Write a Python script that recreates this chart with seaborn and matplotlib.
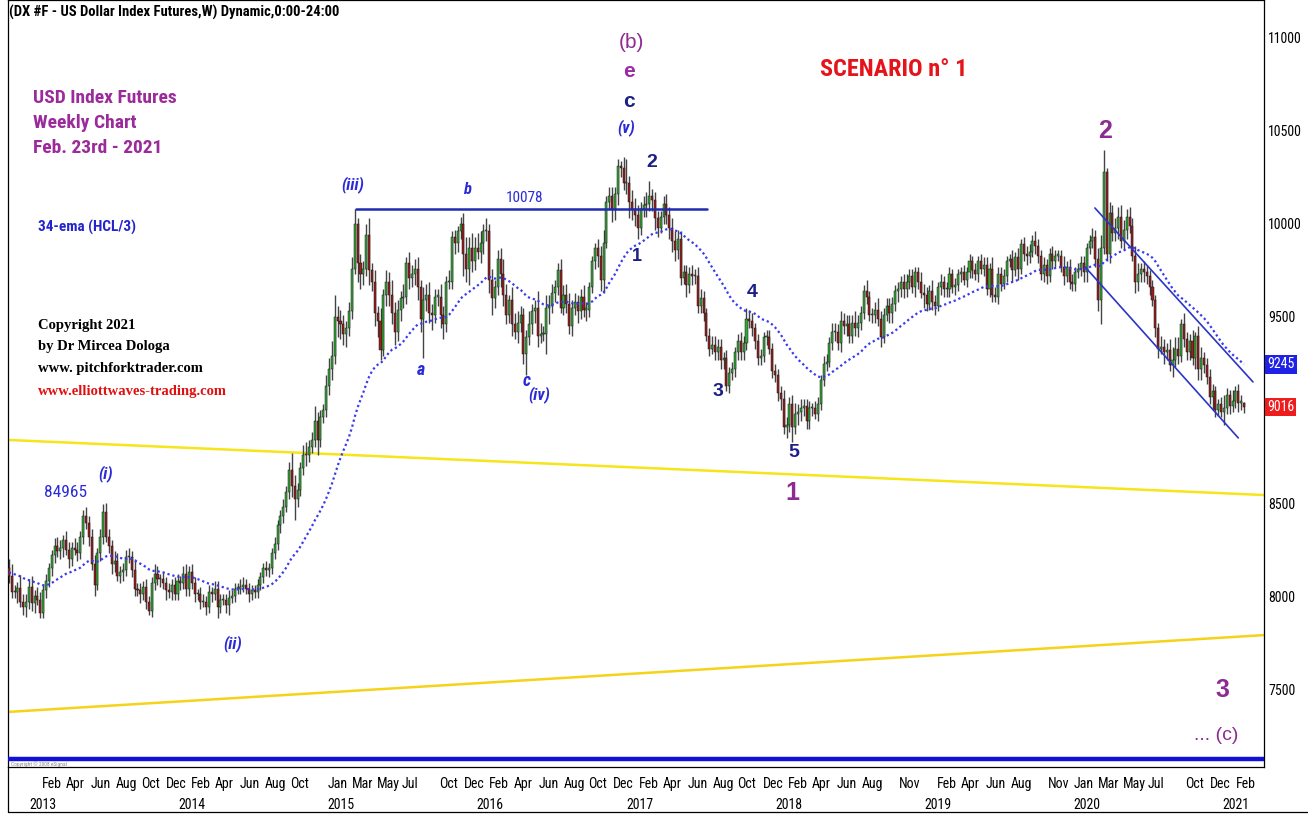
import numpy as np
import pandas as pd
import matplotlib
matplotlib.use("Agg")
import matplotlib.pyplot as plt
import matplotlib.dates as mdates
import matplotlib.transforms as mtrans
from matplotlib import font_manager
from matplotlib.lines import Line2D
import seaborn as sns

# --- weekly DX futures bars (index x100), one entry per week starting Mon 2012-11-12 ---
first_week = "2012-11-12"
first_open = 8150

close_px = [
    # 2012
    8110, 8020, 8020, 8045, 7970, 7940, 7970,
    # 2013
    8050, 7960, 8000, 7980, 7910, 8030, 8080, 8150, 8220, 8270, 8240, 8260, 8300,
    8250, 8200, 8260, 8250, 8230, 8320, 8430, 8390, 8320, 8170, 8060, 8230, 8320,
    8450, 8320, 8270, 8170, 8190, 8110, 8130, 8140, 8210, 8210, 8140, 8040, 8030,
    8010, 8050, 7970, 7920, 8070, 8120, 8090, 8090, 8070, 8030, 8020, 8060, 8010,
    # 2014
    8080, 8070, 8120, 8040, 8130, 8070, 8010, 8010, 7970, 7970, 7940, 8020, 8010,
    8040, 7940, 7980, 7980, 7950, 7990, 8000, 8040, 8040, 8050, 8060, 8040, 8010,
    8030, 8020, 8060, 8100, 8150, 8140, 8150, 8230, 8280, 8380, 8430, 8480, 8560,
    8680, 8590, 8520, 8570, 8690, 8760, 8760, 8800, 8840, 8940, 8840, 8960, 9000,
    # 2015
    9130, 9220, 9290, 9500, 9480, 9460, 9410, 9440, 9530, 9760, 10000, 9790, 9730,
    9760, 9940, 9750, 9690, 9520, 9480, 9320, 9620, 9690, 9620, 9520, 9420, 9540,
    9600, 9610, 9790, 9710, 9730, 9760, 9660, 9490, 9590, 9620, 9520, 9510, 9610,
    9610, 9510, 9460, 9690, 9690, 9930, 9900, 9960, 10000, 9840, 9760, 9870, 9800,
    # 2016
    9870, 9850, 9900, 9960, 9960, 9700, 9600, 9660, 9810, 9730, 9620, 9510, 9590,
    9460, 9420, 9470, 9510, 9300, 9390, 9460, 9530, 9550, 9400, 9410, 9410, 9550,
    9560, 9630, 9660, 9750, 9550, 9620, 9570, 9450, 9550, 9580, 9530, 9610, 9540, 9540,
    9660, 9800, 9870, 9830, 9700, 9900, 10120, 10150, 10080, 10160, 10310, 10300, 10220,
    # 2017
    10220, 10120, 10080, 10050, 9980, 10080, 10100, 10110, 10150, 10130, 10030, 9980, 10040,
    10110, 10050, 9980, 9910, 9860, 9920, 9710, 9740, 9670, 9730, 9720, 9720, 9560,
    9600, 9520, 9400, 9330, 9350, 9310, 9340, 9270, 9280, 9130, 9200, 9220, 9310,
    9370, 9310, 9360, 9490, 9480, 9440, 9370, 9280, 9290, 9390, 9390, 9330, 9210,
    # 2018
    9190, 9090, 9060, 8910, 8920, 9030, 8910, 8980, 8990, 9010, 9020, 8940, 9010,
    9010, 8980, 9030, 9160, 9250, 9260, 9360, 9420, 9420, 9360, 9480, 9450, 9460,
    9400, 9470, 9440, 9470, 9520, 9640, 9610, 9510, 9510, 9540, 9490, 9390, 9510,
    9560, 9520, 9570, 9640, 9650, 9690, 9650, 9690, 9720, 9660, 9740, 9690, 9630,
    # 2019
    9620, 9570, 9640, 9580, 9560, 9660, 9690, 9650, 9650, 9730, 9660, 9670, 9730,
    9740, 9700, 9740, 9800, 9750, 9730, 9800, 9760, 9780, 9650, 9760, 9620, 9610,
    9730, 9680, 9720, 9800, 9810, 9750, 9820, 9760, 9890, 9840, 9830, 9850, 9910,
    9880, 9830, 9730, 9780, 9720, 9840, 9800, 9830, 9830, 9770, 9720, 9770, 9690,
    # 2020
    9680, 9740, 9760, 9790, 9740, 9870, 9910, 9930, 9810, 9590, 9870, 10280, 9840,
    10060, 9950, 9980, 10040, 9910, 9970, 10040, 9990, 9830, 9690, 9730, 9760, 9740,
    9720, 9660, 9590, 9440, 9330, 9340, 9310, 9320, 9240, 9270, 9330, 9290, 9460,
    9380, 9310, 9370, 9280, 9400, 9220, 9280, 9240, 9180, 9070, 9100, 9000, 9030,
    # 2021
    8990, 9010, 9080, 9020, 9050, 9100, 9040, 9040, 9016,
]

wick_up = [
    # 2012
    50, 60, 40, 30, 70, 40, 40,
    # 2013
    40, 60, 30, 50, 40, 30, 40, 30, 30, 40, 50, 40, 30,
    50, 40, 30, 50, 40, 30, 30, 50, 40, 40, 50, 30, 40,
    47, 50, 40, 30, 50, 40, 30, 40, 40, 50, 30, 60, 30,
    40, 30, 40, 30, 30, 50, 40, 30, 40, 30, 40, 30, 40,
    # 2014
    40, 30, 40, 50, 30, 40, 30, 30, 40, 40, 30, 40, 30,
    40, 40, 30, 30, 30, 40, 30, 30, 30, 40, 40, 30, 30,
    30, 30, 30, 30, 30, 40, 30, 30, 40, 30, 30, 40, 30,
    40, 90, 60, 40, 30, 50, 70, 40, 40, 80, 50, 40, 30,
    # 2015
    60, 60, 80, 120, 60, 60, 50, 40, 50, 60, 78, 30, 50,
    40, 60, 90, 40, 60, 40, 70, 30, 60, 50, 80, 60, 50,
    40, 70, 30, 60, 50, 50, 60, 40, 70, 60, 70, 50, 40,
    40, 70, 50, 30, 60, 30, 40, 30, 40, 59, 90, 60, 80,
    # 2016
    60, 80, 60, 40, 70, 40, 60, 40, 50, 60, 80, 60, 30,
    70, 60, 60, 50, 40, 40, 70, 40, 40, 90, 60, 40, 70,
    60, 50, 40, 40, 60, 50, 60, 60, 40, 50, 40, 40, 60, 40,
    30, 30, 30, 50, 50, 70, 30, 50, 50, 40, 40, 30, 60,
    # 2017
    130, 40, 60, 60, 50, 40, 50, 60, 80, 40, 40, 40, 30,
    40, 50, 40, 50, 50, 50, 40, 40, 40, 40, 50, 40, 50,
    50, 40, 30, 40, 50, 50, 40, 40, 30, 40, 30, 40, 30,
    40, 50, 40, 60, 50, 40, 30, 40, 40, 30, 40, 40, 30,
    # 2018
    40, 30, 40, 50, 40, 40, 50, 60, 40, 50, 40, 40, 40,
    30, 40, 40, 30, 40, 40, 30, 50, 50, 40, 50, 40, 50,
    50, 40, 60, 40, 40, 30, 60, 30, 40, 40, 60, 40, 40,
    40, 40, 40, 30, 40, 30, 40, 40, 40, 40, 30, 30, 50,
    # 2019
    50, 40, 30, 60, 40, 30, 40, 30, 40, 40, 30, 40, 30,
    30, 40, 30, 40, 30, 40, 30, 40, 40, 40, 30, 60, 40,
    40, 40, 40, 30, 30, 50, 30, 50, 30, 40, 40, 40, 30,
    50, 40, 30, 40, 30, 30, 40, 30, 30, 30, 60, 30, 40,
    # 2020
    40, 30, 30, 40, 40, 30, 30, 50, 40, 60, 70, 116, 20,
    60, 40, 50, 50, 60, 50, 40, 50, 40, 50, 60, 30, 40,
    40, 30, 40, 30, 30, 60, 40, 40, 60, 70, 60, 60, 30,
    60, 40, 40, 60, 20, 50, 60, 30, 40, 40, 40, 30, 30,
    # 2021
    40, 70, 40, 30, 60, 30, 40, 40, 5,
]

wick_dn = [
    # 2012
    40, 30, 30, 60, 30, 40, 50,
    # 2013
    40, 40, 50, 30, 30, 30, 40, 30, 40, 40, 30, 40, 50,
    30, 50, 40, 30, 40, 30, 40, 30, 50, 30, 60, 30, 40,
    40, 30, 40, 50, 40, 30, 40, 50, 30, 30, 40, 40, 30,
    50, 30, 40, 20, 30, 40, 30, 40, 30, 50, 30, 40, 30,
    # 2014
    30, 40, 30, 40, 40, 30, 40, 30, 40, 30, 40, 30, 40,
    30, 60, 30, 30, 40, 50, 30, 30, 30, 30, 30, 30, 40,
    30, 30, 30, 30, 30, 30, 40, 30, 30, 30, 40, 40, 30,
    40, 60, 110, 40, 30, 40, 60, 40, 30, 40, 80, 40, 30,
    # 2015
    40, 50, 60, 40, 90, 80, 60, 70, 40, 40, 30, 100, 80,
    60, 40, 80, 50, 70, 90, 50, 30, 60, 60, 60, 70, 50,
    60, 50, 40, 60, 50, 60, 70, 70, 210, 60, 50, 80, 40,
    50, 70, 80, 40, 40, 40, 60, 50, 40, 120, 70, 90, 60,
    # 2016
    50, 40, 60, 60, 50, 70, 90, 50, 40, 70, 60, 50, 40,
    60, 40, 60, 50, 50, 110, 40, 50, 60, 60, 40, 40, 110,
    90, 40, 50, 40, 30, 40, 50, 40, 50, 40, 60, 40, 40, 60,
    40, 30, 40, 60, 60, 70, 30, 40, 70, 60, 60, 50, 40,
    # 2017
    60, 90, 60, 60, 60, 40, 40, 60, 40, 60, 60, 50, 30,
    40, 50, 60, 60, 60, 50, 40, 30, 60, 40, 50, 40, 40,
    40, 40, 30, 40, 30, 40, 40, 50, 50, 30, 40, 40, 40,
    40, 40, 40, 40, 40, 40, 40, 40, 40, 30, 40, 30, 40,
    # 2018
    40, 40, 60, 40, 60, 40, 80, 40, 60, 50, 40, 40, 40,
    40, 30, 40, 30, 30, 40, 30, 40, 50, 40, 50, 40, 50,
    40, 40, 40, 50, 40, 30, 40, 30, 40, 40, 40, 50, 30,
    30, 50, 50, 40, 60, 40, 50, 40, 40, 30, 50, 40, 30,
    # 2019
    70, 40, 30, 40, 50, 30, 40, 40, 40, 40, 30, 40, 30,
    40, 30, 40, 30, 40, 30, 40, 30, 40, 30, 40, 40, 30,
    40, 40, 30, 30, 30, 60, 30, 60, 30, 40, 50, 40, 30,
    40, 40, 30, 40, 40, 30, 40, 30, 30, 30, 50, 30, 40,
    # 2020
    40, 40, 30, 40, 50, 50, 30, 40, 40, 60, 125, 30, 40,
    50, 40, 40, 60, 40, 50, 50, 40, 30, 60, 50, 40, 50,
    40, 40, 30, 50, 50, 30, 60, 40, 30, 60, 40, 40, 30,
    40, 40, 40, 40, 60, 60, 60, 40, 40, 40, 70, 40, 30,
    # 2021
    30, 70, 30, 40, 30, 40, 50, 40, 30,
]

ema_span = 34

# trend lines drawn on the chart: (dates, prices)
level_dates, level_prices = ["2015-03-12", "2017-07-19"], [10078, 10078]
yellow_hi_dates, yellow_hi_prices = ["2012-11-10", "2021-04-12"], [8839, 8543]
yellow_lo_dates, yellow_lo_prices = ["2012-11-10", "2021-04-12"], [7377, 7790]
chan_hi_dates, chan_hi_prices = ["2020-02-23", "2021-03-16"], [10086, 9151]
chan_lo_dates, chan_lo_prices = ["2020-01-30", "2021-02-08"], [9769, 8850]

price_ticks = [7500, 8000, 8500, 9500, 10000, 10500, 11000]
month_ticks = ["2013-02", "2013-04", "2013-06", "2013-08", "2013-10", "2013-12",
               "2014-02", "2014-04", "2014-06", "2014-08", "2014-10",
               "2015-01", "2015-03", "2015-05", "2015-07", "2015-10", "2015-12",
               "2016-02", "2016-04", "2016-06", "2016-08", "2016-10", "2016-12",
               "2017-02", "2017-04", "2017-06", "2017-08", "2017-10", "2017-12",
               "2018-02", "2018-04", "2018-06", "2018-08", "2018-11",
               "2019-02", "2019-04", "2019-06", "2019-08", "2019-11",
               "2020-01", "2020-03", "2020-05", "2020-07", "2020-10", "2020-12",
               "2021-02"]
year_ticks = [2013, 2014, 2015, 2016, 2017, 2018, 2019, 2020, 2021]

NAVY = "#1c1f86"
BLUE = "#2a2ad8"
PURPLE = "#8d2a93"
RED = "#e5141b"

# wave counts: text, date, price, colour, size, weight, style, narrow font?
wave_labels = [
    ("(b)", "2017-01-15", 10978, PURPLE, 15, "normal", "normal", False),
    ("e", "2017-01-08", 10817, "#9a2aa6", 15, "bold", "normal", False),
    ("c", "2017-01-08", 10661, NAVY, 15, "bold", "normal", False),
    ("(v)", "2017-01-01", 10516, BLUE, 12, "bold", "italic", True),
    ("2", "2017-03-05", 10328, NAVY, 14, "bold", "normal", False),
    ("1", "2017-01-28", 9823, NAVY, 13, "bold", "normal", False),
    ("(iii)", "2015-03-05", 10210, BLUE, 12, "bold", "italic", True),
    ("b", "2015-12-08", 10183, BLUE, 12, "bold", "italic", True),
    ("10078", "2016-04-27", 10140, BLUE, 11, "normal", "normal", True),
    ("a", "2015-08-18", 9215, BLUE, 13, "bold", "italic", True),
    ("c", "2016-05-02", 9156, BLUE, 13, "bold", "italic", True),
    ("(iv)", "2016-06-03", 9081, BLUE, 12, "bold", "italic", True),
    ("3", "2017-08-13", 9102, NAVY, 14, "bold", "normal", False),
    ("4", "2017-11-05", 9629, NAVY, 14, "bold", "normal", False),
    ("5", "2018-02-16", 8769, NAVY, 14, "bold", "normal", False),
    ("1", "2018-02-13", 8554, PURPLE, 18, "bold", "normal", False),
    ("2", "2020-03-19", 10500, PURPLE, 18, "bold", "normal", False),
    ("3", "2020-12-31", 7495, PURPLE, 18, "bold", "normal", False),
    ("... (c)", "2020-12-16", 7253, PURPLE, 14, "normal", "normal", False),
    ("84965", "2013-03-31", 8559, BLUE, 12.5, "normal", "normal", True),
    ("(i)", "2013-07-07", 8656, BLUE, 12, "bold", "italic", True),
    ("(ii)", "2014-05-14", 7747, BLUE, 12, "bold", "italic", True),
    ("SCENARIO n° 1", "2018-10-18", 10828, RED, 17.5, "bold", "normal", True),
]

# ---------------------------------------------------------------------------
sns.set_theme(style="white")
fl = font_manager.fontManager.ttflist


def has_face(name, weight):
    return any(f.name == name and f.style == "normal" and
               font_manager.weight_dict.get(f.weight, f.weight) == weight for f in fl)


NARROW = "Liberation Sans"
for cand in ["Arial Narrow", "Liberation Sans Narrow", "Archivo Narrow", "Roboto Condensed",
             "PT Sans Narrow", "Arimo Narrow", "Fira Sans Condensed", "Encode Sans Condensed",
             "Barlow Semi Condensed", "Asap Condensed"]:
    if has_face(cand, 400) and has_face(cand, 700):
        NARROW = cand
        break
WIDE = "Liberation Sans"
SERIF = "Liberation Serif"
plt.rcParams["font.family"] = [NARROW, "DejaVu Sans"]

close = np.array(close_px, dtype=float)
assert len(close) == len(wick_up) == len(wick_dn), (len(close), len(wick_up), len(wick_dn))
weeks = pd.date_range(first_week, periods=len(close), freq="W-MON")
opn = np.r_[first_open, close[:-1]]
high = np.maximum(opn, close) + np.array(wick_up)
low = np.minimum(opn, close) - np.array(wick_dn)
df = pd.DataFrame({"week": weeks, "open": opn, "high": high, "low": low, "close": close})
df["hcl3"] = (df["high"] + df["close"] + df["low"]) / 3
df["ema"] = df["hcl3"].ewm(span=ema_span, adjust=False).mean()

W, H = 1308, 814
fig = plt.figure(figsize=(W / 100, H / 100), dpi=100)
fig.patch.set_facecolor("white")
ax = fig.add_axes([8 / W, 47 / H, 1256 / W, 767 / H])
ax.set_facecolor("white")

# trend lines
ax.plot(pd.to_datetime(yellow_hi_dates), yellow_hi_prices, color="#f5e51a", lw=1.8, zorder=1)
ax.plot(pd.to_datetime(yellow_lo_dates), yellow_lo_prices, color="#f5d31a", lw=1.8, zorder=1)
ax.plot(pd.to_datetime(level_dates), level_prices, color="#1f2bb0", lw=1.8, zorder=4)
ax.plot(pd.to_datetime(chan_hi_dates), chan_hi_prices, color="#2a35c8", lw=1.2, zorder=4)
ax.plot(pd.to_datetime(chan_lo_dates), chan_lo_prices, color="#2a35c8", lw=1.2, zorder=4)

# candles
xn = mdates.date2num(df["week"])
up = df["close"] >= df["open"]
ax.vlines(xn, df["low"], df["high"], color="#444444", lw=1.0, zorder=2)
body_lo = np.minimum(df["open"], df["close"])
body_h = np.maximum(np.abs(df["close"] - df["open"]), 6)
ax.bar(xn, body_h, bottom=body_lo, width=5.0,
       color=np.where(up, "#34a838", "#9a1f1f"), edgecolor="#151515",
       linewidth=0.35, zorder=3)

# 34-ema of (H+C+L)/3
sns.lineplot(data=df, x="week", y="ema", ax=ax, color="#3a3af0", lw=1.6, zorder=5)
ax.lines[-1].set_linestyle((0, (1, 1.3)))

ax.set_xlim(pd.Timestamp("2012-11-10"), pd.Timestamp("2021-04-12"))
ax.set_ylim(7081, 11204)
ax.set_xlabel("")
ax.set_ylabel("")

# right price scale
ax.yaxis.tick_right()
ax.set_yticks(price_ticks)
ax.set_yticklabels([str(v) for v in price_ticks], fontsize=10, color="black")
ax.tick_params(axis="y", length=0, pad=3)
ax.set_xticks([])
for s in ax.spines.values():
    s.set_color("black")
    s.set_linewidth(0.9)

# month / year labels below the chart
xt = mtrans.blended_transform_factory(ax.transData, ax.transAxes)
for m in month_ticks:
    d = pd.Timestamp(m + "-01")
    ax.text(d, -0.022, d.strftime("%b"), transform=xt, ha="left", va="center",
            fontsize=10, color="black", clip_on=False)
for y in year_ticks:
    ax.text(pd.Timestamp(f"{y}-01-01"), -0.049, str(y), transform=xt, ha="left",
            va="center", fontsize=10, color="black", clip_on=False)

# blue separator strip at the bottom of the price pane
ax.plot([0, 1], [0.0104, 0.0104], transform=ax.transAxes, color="#1010d8", lw=3.2, zorder=6)
ax.text(0.002, 0.0035, "Copyright © 2008 eSignal", transform=ax.transAxes, fontsize=4,
        color="#888888", va="center")

# frame of the date area
fig.add_artist(Line2D([8 / W, 8 / W], [2 / H, 47 / H], color="black", lw=0.9))
fig.add_artist(Line2D([8 / W, 1.0], [2 / H, 2 / H], color="black", lw=0.9))

# last values on the price scale
yt = mtrans.blended_transform_factory(ax.transAxes, ax.transData)
ax.text(1.0 + 3 / 1256, df["ema"].iloc[-1], f"{df['ema'].iloc[-1]:.0f}", transform=yt,
        ha="left", va="center", fontsize=10, color="white", clip_on=False,
        bbox=dict(facecolor="#1f22e6", edgecolor="none", pad=1.6))
ax.text(1.0 + 3 / 1256, df["close"].iloc[-1], f"{df['close'].iloc[-1]:.0f}", transform=yt,
        ha="left", va="center", fontsize=10, color="white", clip_on=False,
        bbox=dict(facecolor="#ee1c1c", edgecolor="none", pad=1.6))

# header and notes
ax.text(0.001, 0.984, "(DX #F - US Dollar Index Futures,W) Dynamic,0:00-24:00",
        transform=ax.transAxes, fontsize=10.5, fontweight="bold", color="black", va="center")
for txt, yy in [("USD Index Futures", 0.872), ("Weekly Chart", 0.840), ("Feb. 23rd - 2021", 0.807)]:
    ax.text(0.0199, yy, txt, transform=ax.transAxes, fontsize=14, fontweight="bold",
            color="#9b2a9b", va="center")
ax.text(0.0239, 0.704, "34-ema (HCL/3)", transform=ax.transAxes, fontsize=11,
        fontweight="bold", color="#2424cc", va="center")
for txt, yy, col in [("Copyright 2021", 0.576, "black"),
                     ("by Dr Mircea Dologa", 0.548, "black"),
                     ("www. pitchforktrader.com", 0.519, "black"),
                     ("www.elliottwaves-trading.com", 0.489, "#e01010")]:
    ax.text(0.0239, yy, txt, transform=ax.transAxes, fontsize=10.5, fontweight="bold",
            color=col, va="center", family=[SERIF, "DejaVu Serif"])

for txt, d, p, col, size, weight, style, narrow in wave_labels:
    fam = [NARROW, "DejaVu Sans"] if narrow else [WIDE, "DejaVu Sans"]
    ax.text(pd.Timestamp(d), p, txt, ha="center", va="center", color=col, fontsize=size,
            fontweight=weight, fontstyle=style, family=fam, zorder=7)

fig.savefig("out.png", dpi=100, facecolor="white")
